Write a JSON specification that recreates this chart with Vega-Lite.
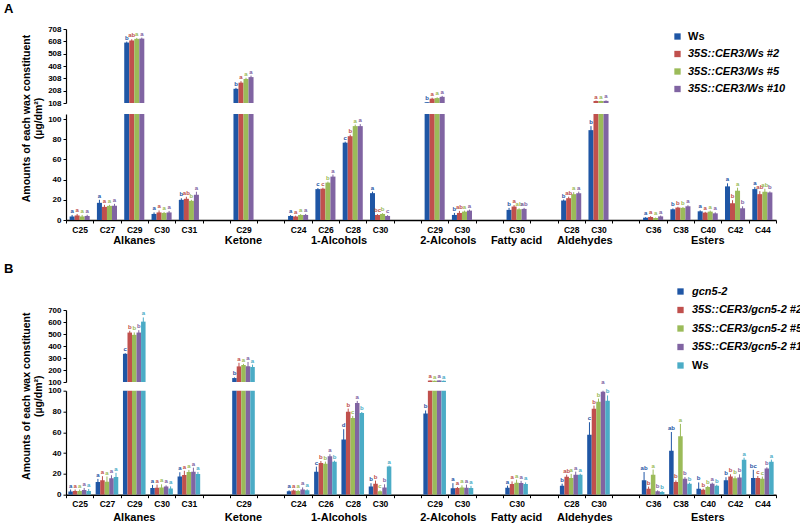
{
"$schema": "https://vega.github.io/schema/vega-lite/v6.json",
"padding": {"left": 4, "top": 3, "right": 0, "bottom": 0},
"config": {"font": "Liberation Sans", "view": {"stroke": null},
  "axis": {"labelFont": "Liberation Sans", "labelFontWeight": "bold", "labelColor": "black", "domainColor": "black", "tickColor": "black", "grid": false, "titleFont": "Liberation Sans", "titleColor": "black", "titleFontWeight": "bold", "labelOverlap": false},
  "title": {"font": "Liberation Sans"}},
"datasets": {
"classes": [{"c":"Alkanes","p":2.5},{"c":"Ketone","p":6.5},{"c":"1-Alcohols","p":10},{"c":"2-Alcohols","p":14},{"c":"Fatty acid","p":16.5},{"c":"Aldehydes","p":19},{"c":"Esters","p":23.5}],
"A": [
{"k":"0|C25","g":"Ws","v":3.5,"lo":2,"hi":5,"l":"a"},
{"k":"0|C25","g":"35S::CER3/Ws #2","v":4.5,"lo":3,"hi":6,"l":"a"},
{"k":"0|C25","g":"35S::CER3/Ws #5","v":3.5,"lo":2,"hi":5,"l":"a"},
{"k":"0|C25","g":"35S::CER3/Ws #10","v":4,"lo":2.8,"hi":5.2,"l":"a"},
{"k":"1|C27","g":"Ws","v":17,"lo":14,"hi":20,"l":"a"},
{"k":"1|C27","g":"35S::CER3/Ws #2","v":13,"lo":11,"hi":15,"l":"a"},
{"k":"1|C27","g":"35S::CER3/Ws #5","v":14,"lo":13,"hi":15,"l":"a"},
{"k":"1|C27","g":"35S::CER3/Ws #10","v":14,"lo":12,"hi":16,"l":"a"},
{"k":"2|C29","g":"Ws","v":590,"lo":582,"hi":598,"l":"b"},
{"k":"2|C29","g":"35S::CER3/Ws #2","v":607,"lo":597,"hi":617,"l":"ab"},
{"k":"2|C29","g":"35S::CER3/Ws #5","v":620,"lo":612,"hi":628,"l":"a"},
{"k":"2|C29","g":"35S::CER3/Ws #10","v":622,"lo":614,"hi":630,"l":"a"},
{"k":"3|C30","g":"Ws","v":6,"lo":4.5,"hi":7.5,"l":"a"},
{"k":"3|C30","g":"35S::CER3/Ws #2","v":7.5,"lo":5.5,"hi":9.5,"l":"a"},
{"k":"3|C30","g":"35S::CER3/Ws #5","v":7,"lo":6,"hi":8,"l":"a"},
{"k":"3|C30","g":"35S::CER3/Ws #10","v":7.5,"lo":6,"hi":9,"l":"a"},
{"k":"4|C31","g":"Ws","v":20,"lo":18.5,"hi":21.5,"l":"b"},
{"k":"4|C31","g":"35S::CER3/Ws #2","v":21,"lo":19,"hi":23,"l":"ab"},
{"k":"4|C31","g":"35S::CER3/Ws #5","v":19,"lo":18,"hi":20,"l":"b"},
{"k":"4|C31","g":"35S::CER3/Ws #10","v":25,"lo":22,"hi":28,"l":"a"},
{"k":"6|C29","g":"Ws","v":215,"lo":207,"hi":223,"l":"b"},
{"k":"6|C29","g":"35S::CER3/Ws #2","v":265,"lo":253,"hi":277,"l":"a"},
{"k":"6|C29","g":"35S::CER3/Ws #5","v":295,"lo":285,"hi":305,"l":"a"},
{"k":"6|C29","g":"35S::CER3/Ws #10","v":310,"lo":298,"hi":322,"l":"a"},
{"k":"8|C24","g":"Ws","v":4,"lo":3.2,"hi":4.8,"l":"a"},
{"k":"8|C24","g":"35S::CER3/Ws #2","v":3.5,"lo":2.7,"hi":4.3,"l":"a"},
{"k":"8|C24","g":"35S::CER3/Ws #5","v":5,"lo":4.2,"hi":5.8,"l":"a"},
{"k":"8|C24","g":"35S::CER3/Ws #10","v":5,"lo":4,"hi":6,"l":"a"},
{"k":"9|C26","g":"Ws","v":30.6,"lo":29.6,"hi":31.6,"l":"c"},
{"k":"9|C26","g":"35S::CER3/Ws #2","v":31,"lo":30,"hi":32,"l":"c"},
{"k":"9|C26","g":"35S::CER3/Ws #5","v":37,"lo":36,"hi":38,"l":"b"},
{"k":"9|C26","g":"35S::CER3/Ws #10","v":43,"lo":41,"hi":45,"l":"a"},
{"k":"10|C28","g":"Ws","v":76.6,"lo":75.6,"hi":77.6,"l":"c"},
{"k":"10|C28","g":"35S::CER3/Ws #2","v":83,"lo":81.5,"hi":84.5,"l":"b"},
{"k":"10|C28","g":"35S::CER3/Ws #5","v":93,"lo":91.5,"hi":94.5,"l":"a"},
{"k":"10|C28","g":"35S::CER3/Ws #10","v":93,"lo":91,"hi":95,"l":"a"},
{"k":"11|C30","g":"Ws","v":26.6,"lo":25.1,"hi":28.1,"l":"a"},
{"k":"11|C30","g":"35S::CER3/Ws #2","v":5,"lo":4.2,"hi":5.8,"l":"bc"},
{"k":"11|C30","g":"35S::CER3/Ws #5","v":6,"lo":5.2,"hi":6.8,"l":"b"},
{"k":"11|C30","g":"35S::CER3/Ws #10","v":4,"lo":3.2,"hi":4.8,"l":"c"},
{"k":"13|C29","g":"Ws","v":106,"lo":104,"hi":108,"l":"b"},
{"k":"13|C29","g":"35S::CER3/Ws #2","v":135,"lo":127,"hi":143,"l":"a"},
{"k":"13|C29","g":"35S::CER3/Ws #5","v":140,"lo":134,"hi":146,"l":"a"},
{"k":"13|C29","g":"35S::CER3/Ws #10","v":150,"lo":142,"hi":158,"l":"a"},
{"k":"14|C30","g":"Ws","v":5,"lo":3,"hi":7,"l":"b"},
{"k":"14|C30","g":"35S::CER3/Ws #2","v":7,"lo":5,"hi":9,"l":"ab"},
{"k":"14|C30","g":"35S::CER3/Ws #5","v":8.3,"lo":7.3,"hi":9.3,"l":"a"},
{"k":"14|C30","g":"35S::CER3/Ws #10","v":9.3,"lo":8.3,"hi":10.3,"l":"a"},
{"k":"16|C30","g":"Ws","v":10,"lo":8,"hi":12,"l":"b"},
{"k":"16|C30","g":"35S::CER3/Ws #2","v":13.3,"lo":11.8,"hi":14.8,"l":"a"},
{"k":"16|C30","g":"35S::CER3/Ws #5","v":10.6,"lo":9.6,"hi":11.6,"l":"ab"},
{"k":"16|C30","g":"35S::CER3/Ws #10","v":11,"lo":10,"hi":12,"l":"ab"},
{"k":"18|C28","g":"Ws","v":19.3,"lo":18.3,"hi":20.3,"l":"b"},
{"k":"18|C28","g":"35S::CER3/Ws #2","v":21.6,"lo":20.1,"hi":23.1,"l":"ab"},
{"k":"18|C28","g":"35S::CER3/Ws #5","v":25.6,"lo":23.6,"hi":27.6,"l":"a"},
{"k":"18|C28","g":"35S::CER3/Ws #10","v":26.6,"lo":25.1,"hi":28.1,"l":"a"},
{"k":"19|C30","g":"Ws","v":89,"lo":85,"hi":93,"l":"b"},
{"k":"19|C30","g":"35S::CER3/Ws #2","v":116,"lo":112,"hi":120,"l":"a"},
{"k":"19|C30","g":"35S::CER3/Ws #5","v":116,"lo":113,"hi":119,"l":"a"},
{"k":"19|C30","g":"35S::CER3/Ws #10","v":117,"lo":113,"hi":121,"l":"a"},
{"k":"21|C36","g":"Ws","v":2.3,"lo":1.8,"hi":2.8,"l":"a"},
{"k":"21|C36","g":"35S::CER3/Ws #2","v":3,"lo":2.2,"hi":3.8,"l":"a"},
{"k":"21|C36","g":"35S::CER3/Ws #5","v":2,"lo":1.5,"hi":2.5,"l":"a"},
{"k":"21|C36","g":"35S::CER3/Ws #10","v":3.6,"lo":2.8,"hi":4.4,"l":"a"},
{"k":"22|C38","g":"Ws","v":10.6,"lo":9.8,"hi":11.4,"l":"b"},
{"k":"22|C38","g":"35S::CER3/Ws #2","v":12.3,"lo":11.5,"hi":13.1,"l":"b"},
{"k":"22|C38","g":"35S::CER3/Ws #5","v":12,"lo":11.2,"hi":12.8,"l":"b"},
{"k":"22|C38","g":"35S::CER3/Ws #10","v":13.6,"lo":12.6,"hi":14.6,"l":"a"},
{"k":"23|C40","g":"Ws","v":8.6,"lo":7.6,"hi":9.6,"l":"a"},
{"k":"23|C40","g":"35S::CER3/Ws #2","v":7.3,"lo":6.5,"hi":8.1,"l":"a"},
{"k":"23|C40","g":"35S::CER3/Ws #5","v":8.3,"lo":7.3,"hi":9.3,"l":"a"},
{"k":"23|C40","g":"35S::CER3/Ws #10","v":6.6,"lo":5.6,"hi":7.6,"l":"a"},
{"k":"24|C42","g":"Ws","v":33.3,"lo":30.3,"hi":36.3,"l":"a"},
{"k":"24|C42","g":"35S::CER3/Ws #2","v":16.6,"lo":13.6,"hi":19.6,"l":"b"},
{"k":"24|C42","g":"35S::CER3/Ws #5","v":29,"lo":26,"hi":32,"l":"a"},
{"k":"24|C42","g":"35S::CER3/Ws #10","v":11.6,"lo":9.6,"hi":13.6,"l":"b"},
{"k":"25|C44","g":"Ws","v":30.6,"lo":28.6,"hi":32.6,"l":"a"},
{"k":"25|C44","g":"35S::CER3/Ws #2","v":25.6,"lo":22.6,"hi":28.6,"l":"ab"},
{"k":"25|C44","g":"35S::CER3/Ws #5","v":28,"lo":25,"hi":31,"l":"ab"},
{"k":"25|C44","g":"35S::CER3/Ws #10","v":27.3,"lo":26.3,"hi":28.3,"l":"b"}
],
"B": [
{"k":"0|C25","g":"gcn5-2","v":3,"lo":1,"hi":5,"l":"a"},
{"k":"0|C25","g":"35S::CER3/gcn5-2 #2","v":3.5,"lo":2,"hi":5,"l":"a"},
{"k":"0|C25","g":"35S::CER3/gcn5-2 #5","v":3.5,"lo":2,"hi":5,"l":"a"},
{"k":"0|C25","g":"35S::CER3/gcn5-2 #10","v":4.5,"lo":2.5,"hi":6.5,"l":"a"},
{"k":"0|C25","g":"Ws","v":3.5,"lo":1.5,"hi":5.5,"l":"a"},
{"k":"1|C27","g":"gcn5-2","v":12.2,"lo":9.2,"hi":15.2,"l":"a"},
{"k":"1|C27","g":"35S::CER3/gcn5-2 #2","v":13.8,"lo":9.8,"hi":17.8,"l":"a"},
{"k":"1|C27","g":"35S::CER3/gcn5-2 #5","v":12.5,"lo":7.5,"hi":17.5,"l":"a"},
{"k":"1|C27","g":"35S::CER3/gcn5-2 #10","v":15.7,"lo":12.7,"hi":18.7,"l":"a"},
{"k":"1|C27","g":"Ws","v":17,"lo":13,"hi":21,"l":"a"},
{"k":"2|C29","g":"gcn5-2","v":335,"lo":330,"hi":340,"l":"c"},
{"k":"2|C29","g":"35S::CER3/gcn5-2 #2","v":512,"lo":497,"hi":527,"l":"b"},
{"k":"2|C29","g":"35S::CER3/gcn5-2 #5","v":493,"lo":473,"hi":513,"l":"b"},
{"k":"2|C29","g":"35S::CER3/gcn5-2 #10","v":512,"lo":492,"hi":532,"l":"b"},
{"k":"2|C29","g":"Ws","v":603,"lo":568,"hi":638,"l":"a"},
{"k":"3|C30","g":"gcn5-2","v":6.4,"lo":3.4,"hi":9.4,"l":"a"},
{"k":"3|C30","g":"35S::CER3/gcn5-2 #2","v":6.7,"lo":3.7,"hi":9.7,"l":"a"},
{"k":"3|C30","g":"35S::CER3/gcn5-2 #5","v":7,"lo":4,"hi":10,"l":"a"},
{"k":"3|C30","g":"35S::CER3/gcn5-2 #10","v":8,"lo":7,"hi":9,"l":"a"},
{"k":"3|C30","g":"Ws","v":6,"lo":4,"hi":8,"l":"a"},
{"k":"4|C31","g":"gcn5-2","v":17.6,"lo":13.6,"hi":21.6,"l":"a"},
{"k":"4|C31","g":"35S::CER3/gcn5-2 #2","v":19,"lo":15,"hi":23,"l":"a"},
{"k":"4|C31","g":"35S::CER3/gcn5-2 #5","v":21.8,"lo":19.8,"hi":23.8,"l":"a"},
{"k":"4|C31","g":"35S::CER3/gcn5-2 #10","v":22,"lo":18,"hi":26,"l":"a"},
{"k":"4|C31","g":"Ws","v":19.9,"lo":17.9,"hi":21.9,"l":"a"},
{"k":"6|C29","g":"gcn5-2","v":133,"lo":128,"hi":138,"l":"b"},
{"k":"6|C29","g":"35S::CER3/gcn5-2 #2","v":230,"lo":200,"hi":260,"l":"a"},
{"k":"6|C29","g":"35S::CER3/gcn5-2 #5","v":241,"lo":231,"hi":251,"l":"a"},
{"k":"6|C29","g":"35S::CER3/gcn5-2 #10","v":232,"lo":197,"hi":267,"l":"a"},
{"k":"6|C29","g":"Ws","v":225,"lo":205,"hi":245,"l":"a"},
{"k":"8|C24","g":"gcn5-2","v":3.2,"lo":2.2,"hi":4.2,"l":"a"},
{"k":"8|C24","g":"35S::CER3/gcn5-2 #2","v":4,"lo":3,"hi":5,"l":"a"},
{"k":"8|C24","g":"35S::CER3/gcn5-2 #5","v":3.6,"lo":2.6,"hi":4.6,"l":"a"},
{"k":"8|C24","g":"35S::CER3/gcn5-2 #10","v":5,"lo":3,"hi":7,"l":"a"},
{"k":"8|C24","g":"Ws","v":4.2,"lo":3.2,"hi":5.2,"l":"a"},
{"k":"9|C26","g":"gcn5-2","v":22,"lo":17,"hi":27,"l":"c"},
{"k":"9|C26","g":"35S::CER3/gcn5-2 #2","v":30.4,"lo":28.4,"hi":32.4,"l":"b"},
{"k":"9|C26","g":"35S::CER3/gcn5-2 #5","v":29.8,"lo":27.8,"hi":31.8,"l":"b"},
{"k":"9|C26","g":"35S::CER3/gcn5-2 #10","v":36.9,"lo":34.9,"hi":38.9,"l":"a"},
{"k":"9|C26","g":"Ws","v":31.7,"lo":30.7,"hi":32.7,"l":"b"},
{"k":"10|C28","g":"gcn5-2","v":53,"lo":43,"hi":63,"l":"d"},
{"k":"10|C28","g":"35S::CER3/gcn5-2 #2","v":79.8,"lo":76.8,"hi":82.8,"l":"b"},
{"k":"10|C28","g":"35S::CER3/gcn5-2 #5","v":73.7,"lo":71.7,"hi":75.7,"l":"c"},
{"k":"10|C28","g":"35S::CER3/gcn5-2 #10","v":88.2,"lo":86.2,"hi":90.2,"l":"a"},
{"k":"10|C28","g":"Ws","v":78.5,"lo":77.5,"hi":79.5,"l":"b"},
{"k":"11|C30","g":"gcn5-2","v":8,"lo":5,"hi":11,"l":"b"},
{"k":"11|C30","g":"35S::CER3/gcn5-2 #2","v":10.6,"lo":7.6,"hi":13.6,"l":"b"},
{"k":"11|C30","g":"35S::CER3/gcn5-2 #5","v":3.2,"lo":2.2,"hi":4.2,"l":"c"},
{"k":"11|C30","g":"35S::CER3/gcn5-2 #10","v":7,"lo":4,"hi":10,"l":"b"},
{"k":"11|C30","g":"Ws","v":27,"lo":26,"hi":28,"l":"a"},
{"k":"13|C29","g":"gcn5-2","v":78,"lo":75,"hi":81,"l":"b"},
{"k":"13|C29","g":"35S::CER3/gcn5-2 #2","v":112,"lo":110,"hi":114,"l":"a"},
{"k":"13|C29","g":"35S::CER3/gcn5-2 #5","v":110,"lo":108,"hi":112,"l":"a"},
{"k":"13|C29","g":"35S::CER3/gcn5-2 #10","v":113,"lo":111,"hi":115,"l":"a"},
{"k":"13|C29","g":"Ws","v":110,"lo":108,"hi":112,"l":"a"},
{"k":"14|C30","g":"gcn5-2","v":6.1,"lo":1.1,"hi":11.1,"l":"a"},
{"k":"14|C30","g":"35S::CER3/gcn5-2 #2","v":6.4,"lo":5.4,"hi":7.4,"l":"a"},
{"k":"14|C30","g":"35S::CER3/gcn5-2 #5","v":7,"lo":5,"hi":9,"l":"a"},
{"k":"14|C30","g":"35S::CER3/gcn5-2 #10","v":6.7,"lo":3.7,"hi":9.7,"l":"a"},
{"k":"14|C30","g":"Ws","v":6.5,"lo":4.5,"hi":8.5,"l":"a"},
{"k":"16|C30","g":"gcn5-2","v":6.7,"lo":4.7,"hi":8.7,"l":"a"},
{"k":"16|C30","g":"35S::CER3/gcn5-2 #2","v":10.3,"lo":7.8,"hi":12.8,"l":"a"},
{"k":"16|C30","g":"35S::CER3/gcn5-2 #5","v":11.5,"lo":8.5,"hi":14.5,"l":"a"},
{"k":"16|C30","g":"35S::CER3/gcn5-2 #10","v":11.3,"lo":9.3,"hi":13.3,"l":"a"},
{"k":"16|C30","g":"Ws","v":10.3,"lo":8.8,"hi":11.8,"l":"a"},
{"k":"18|C28","g":"gcn5-2","v":8.6,"lo":6.6,"hi":10.6,"l":"b"},
{"k":"18|C28","g":"35S::CER3/gcn5-2 #2","v":17.3,"lo":15.3,"hi":19.3,"l":"ab"},
{"k":"18|C28","g":"35S::CER3/gcn5-2 #5","v":16,"lo":12,"hi":20,"l":"a"},
{"k":"18|C28","g":"35S::CER3/gcn5-2 #10","v":19.2,"lo":16.2,"hi":22.2,"l":"a"},
{"k":"18|C28","g":"Ws","v":19.2,"lo":18.2,"hi":20.2,"l":"a"},
{"k":"19|C30","g":"gcn5-2","v":57.7,"lo":45.7,"hi":69.7,"l":"c"},
{"k":"19|C30","g":"35S::CER3/gcn5-2 #2","v":82.7,"lo":79.7,"hi":85.7,"l":"b"},
{"k":"19|C30","g":"35S::CER3/gcn5-2 #5","v":89.4,"lo":86.4,"hi":92.4,"l":"b"},
{"k":"19|C30","g":"35S::CER3/gcn5-2 #10","v":99,"lo":93,"hi":105,"l":"a"},
{"k":"19|C30","g":"Ws","v":90.4,"lo":85.4,"hi":95.4,"l":"b"},
{"k":"21|C36","g":"gcn5-2","v":13.8,"lo":5.8,"hi":21.8,"l":"ab"},
{"k":"21|C36","g":"35S::CER3/gcn5-2 #2","v":5.8,"lo":3.8,"hi":7.8,"l":"b"},
{"k":"21|C36","g":"35S::CER3/gcn5-2 #5","v":19.2,"lo":14.2,"hi":24.2,"l":"a"},
{"k":"21|C36","g":"35S::CER3/gcn5-2 #10","v":3.2,"lo":2.2,"hi":4.2,"l":"b"},
{"k":"21|C36","g":"Ws","v":2.5,"lo":1.5,"hi":3.5,"l":"b"},
{"k":"22|C38","g":"gcn5-2","v":42.3,"lo":24.3,"hi":60.3,"l":"ab"},
{"k":"22|C38","g":"35S::CER3/gcn5-2 #2","v":12.2,"lo":10.7,"hi":13.7,"l":"b"},
{"k":"22|C38","g":"35S::CER3/gcn5-2 #5","v":56.1,"lo":44.1,"hi":68.1,"l":"a"},
{"k":"22|C38","g":"35S::CER3/gcn5-2 #10","v":15.4,"lo":13.9,"hi":16.9,"l":"b"},
{"k":"22|C38","g":"Ws","v":10.6,"lo":9.6,"hi":11.6,"l":"b"},
{"k":"23|C40","g":"gcn5-2","v":5.8,"lo":0,"hi":11.8,"l":"b"},
{"k":"23|C40","g":"35S::CER3/gcn5-2 #2","v":4.8,"lo":3.8,"hi":5.8,"l":"b"},
{"k":"23|C40","g":"35S::CER3/gcn5-2 #5","v":7.4,"lo":6.4,"hi":8.4,"l":"b"},
{"k":"23|C40","g":"35S::CER3/gcn5-2 #10","v":10.6,"lo":9.6,"hi":11.6,"l":"a"},
{"k":"23|C40","g":"Ws","v":8.6,"lo":7.6,"hi":9.6,"l":"b"},
{"k":"24|C42","g":"gcn5-2","v":13.8,"lo":10.8,"hi":16.8,"l":"b"},
{"k":"24|C42","g":"35S::CER3/gcn5-2 #2","v":17.6,"lo":15.6,"hi":19.6,"l":"b"},
{"k":"24|C42","g":"35S::CER3/gcn5-2 #5","v":15.7,"lo":13.7,"hi":17.7,"l":"b"},
{"k":"24|C42","g":"35S::CER3/gcn5-2 #10","v":16.6,"lo":13.6,"hi":19.6,"l":"b"},
{"k":"24|C42","g":"Ws","v":33.6,"lo":31.6,"hi":35.6,"l":"a"},
{"k":"25|C44","g":"gcn5-2","v":16,"lo":8,"hi":24,"l":"bc"},
{"k":"25|C44","g":"35S::CER3/gcn5-2 #2","v":16,"lo":14,"hi":18,"l":"c"},
{"k":"25|C44","g":"35S::CER3/gcn5-2 #5","v":15.4,"lo":13.4,"hi":17.4,"l":"c"},
{"k":"25|C44","g":"35S::CER3/gcn5-2 #10","v":25.3,"lo":24.3,"hi":26.3,"l":"b"},
{"k":"25|C44","g":"Ws","v":31.7,"lo":29.7,"hi":33.7,"l":"a"}
]
},
"vconcat": [
{
 "vconcat": [
  {
   "width": 710, "height": 74,
   "title": {"text": "A", "anchor": "start", "frame": "group", "dx": -62, "offset": 9, "fontSize": 13, "fontWeight": "bold", "color": "black"},
   "data": {"name": "A"},
   "transform": [{"filter": "datum.v >= 100"}],
   "encoding": {
    "x": {"field": "k", "type": "nominal", "scale": {"domain": ["0|C25","1|C27","2|C29","3|C30","4|C31","5|","6|C29","7|","8|C24","9|C26","10|C28","11|C30","12|","13|C29","14|C30","15|","16|C30","17|","18|C28","19|C30","20|","21|C36","22|C38","23|C40","24|C42","25|C44"], "paddingInner": 0, "paddingOuter": 0}, "axis": null},
    "xOffset": {"field": "g", "type": "nominal", "scale": {"domain": ["Ws","35S::CER3/Ws #2","35S::CER3/Ws #5","35S::CER3/Ws #10"], "paddingInner": 0, "paddingOuter": 0.72}},
    "color": {"field": "g", "type": "nominal", "scale": {"domain": ["Ws","35S::CER3/Ws #2","35S::CER3/Ws #5","35S::CER3/Ws #10"], "range": ["#1f56a5","#c0504d","#9bbb59","#8064a2"]},
      "legend": {"orient": "none", "legendX": 606, "legendY": 2, "title": null, "symbolType": "square", "symbolSize": 40, "symbolStrokeWidth": 0, "labelFontSize": 11, "labelFontWeight": "bold", "labelFont": "Liberation Sans", "labelColor": "black", "labelFontStyle": {"expr": "datum.label == 'Ws' ? 'normal' : 'italic'"}, "rowPadding": 5.5, "labelOffset": 5, "labelLimit": 300}}
   },
   "layer": [
    {"mark": {"type": "bar"}, "encoding": {"y": {"field": "v", "type": "quantitative", "scale": {"domain": [100, 700], "zero": false, "nice": false}, "axis": {"values": [100,200,300,400,500,600,700], "labelExpr": "datum.value / 100 + '08'", "labelOverlap": false, "title": null, "labelFontSize": 8, "tickSize": 3, "domainWidth": 1.2}}, "y2": {"datum": 100}}},
    {"mark": {"type": "rule", "color": "black", "strokeWidth": 1}, "encoding": {"y": {"field": "lo", "type": "quantitative", "axis": {"values": [100,200,300,400,500,600,700], "labelExpr": "datum.value / 100 + '08'", "labelOverlap": false, "title": null, "labelFontSize": 8, "tickSize": 3, "domainWidth": 1.2}}, "y2": {"field": "hi"}}},
    {"mark": {"type": "text", "baseline": "bottom", "dy": -1, "fontSize": 6, "fontWeight": "bold", "color": "#333"}, "encoding": {"y": {"field": "hi", "type": "quantitative", "axis": {"values": [100,200,300,400,500,600,700], "labelExpr": "datum.value / 100 + '08'", "labelOverlap": false, "title": null, "labelFontSize": 8, "tickSize": 3, "domainWidth": 1.2}}, "text": {"field": "l"}}}
   ]
  },
  {
   "width": 710, "height": 106,
   "layer": [
    {
     "data": {"name": "A"},
     "encoding": {
      "x": {"field": "k", "type": "nominal", "scale": {"domain": ["0|C25","1|C27","2|C29","3|C30","4|C31","5|","6|C29","7|","8|C24","9|C26","10|C28","11|C30","12|","13|C29","14|C30","15|","16|C30","17|","18|C28","19|C30","20|","21|C36","22|C38","23|C40","24|C42","25|C44"], "paddingInner": 0, "paddingOuter": 0},
        "axis": {"labelExpr": "split(datum.label, '|')[1]", "tickBand": "extent", "title": null, "labelAngle": 0, "labelFontSize": 8.5, "tickSize": 3, "labelPadding": 2, "domainWidth": 1.5}},
      "xOffset": {"field": "g", "type": "nominal", "scale": {"domain": ["Ws","35S::CER3/Ws #2","35S::CER3/Ws #5","35S::CER3/Ws #10"], "paddingInner": 0, "paddingOuter": 0.72}},
      "color": {"field": "g", "type": "nominal", "scale": {"domain": ["Ws","35S::CER3/Ws #2","35S::CER3/Ws #5","35S::CER3/Ws #10"], "range": ["#1f56a5","#c0504d","#9bbb59","#8064a2"]}, "legend": null}
     },
     "layer": [
      {"mark": {"type": "bar", "clip": true}, "encoding": {"y": {"field": "v", "type": "quantitative", "scale": {"domain": [0, 105], "nice": false}, "axis": {"values": [0,20,40,60,80,100], "labelOverlap": false, "title": ["Amounts of each wax constituent", "(µg/dm²)"], "titleFontSize": 10.5, "titleY": 4, "titlePadding": 4, "labelFontSize": 8, "tickSize": 3, "domainWidth": 1.2}}}},
      {"transform": [{"filter": "datum.v < 100"}], "mark": {"type": "rule", "color": "black", "strokeWidth": 1, "clip": true}, "encoding": {"y": {"field": "lo", "type": "quantitative", "axis": {"values": [0,20,40,60,80,100], "labelOverlap": false, "title": ["Amounts of each wax constituent", "(µg/dm²)"], "titleFontSize": 10.5, "titleY": 4, "titlePadding": 4, "labelFontSize": 8, "tickSize": 3, "domainWidth": 1.2}}, "y2": {"field": "hi"}}},
      {"transform": [{"filter": "datum.v < 100"}], "mark": {"type": "text", "baseline": "bottom", "dy": -1, "fontSize": 6, "fontWeight": "bold", "color": "#333"}, "encoding": {"y": {"field": "hi", "type": "quantitative", "axis": {"values": [0,20,40,60,80,100], "labelOverlap": false, "title": ["Amounts of each wax constituent", "(µg/dm²)"], "titleFontSize": 10.5, "titleY": 4, "titlePadding": 4, "labelFontSize": 8, "tickSize": 3, "domainWidth": 1.2}}, "text": {"field": "l"}}}
     ]
    },
    {
     "data": {"name": "classes"},
     "mark": {"type": "text", "baseline": "middle", "dy": 21, "fontSize": 11, "fontWeight": "bold", "color": "black"},
     "encoding": {
      "x": {"field": "p", "type": "quantitative", "scale": {"domain": [0, 26], "nice": false, "zero": false}, "axis": null},
      "y": {"datum": 0, "axis": {"values": [0,20,40,60,80,100], "labelOverlap": false, "title": ["Amounts of each wax constituent", "(µg/dm²)"], "titleFontSize": 10.5, "titleY": 4, "titlePadding": 4, "labelFontSize": 8, "tickSize": 3, "domainWidth": 1.2}},
      "text": {"field": "c"}
     }
    }
   ],
   "resolve": {"scale": {"x": "independent"}}
  }
 ],
 "spacing": 11,
 "bounds": "flush",
 "resolve": {"scale": {"x": "independent", "y": "independent", "xOffset": "independent"}, "legend": {"color": "independent"}}
},
{
 "vconcat": [
  {
   "width": 710, "height": 72,
   "title": {"text": "B", "anchor": "start", "frame": "group", "dx": -62, "offset": 10, "fontSize": 13, "fontWeight": "bold", "color": "black"},
   "data": {"name": "B"},
   "transform": [{"filter": "datum.v >= 100"}],
   "encoding": {
    "x": {"field": "k", "type": "nominal", "scale": {"domain": ["0|C25","1|C27","2|C29","3|C30","4|C31","5|","6|C29","7|","8|C24","9|C26","10|C28","11|C30","12|","13|C29","14|C30","15|","16|C30","17|","18|C28","19|C30","20|","21|C36","22|C38","23|C40","24|C42","25|C44"], "paddingInner": 0, "paddingOuter": 0}, "axis": null},
    "xOffset": {"field": "g", "type": "nominal", "scale": {"domain": ["gcn5-2","35S::CER3/gcn5-2 #2","35S::CER3/gcn5-2 #5","35S::CER3/gcn5-2 #10","Ws"], "paddingInner": 0, "paddingOuter": 0.52}},
    "color": {"field": "g", "type": "nominal", "scale": {"domain": ["gcn5-2","35S::CER3/gcn5-2 #2","35S::CER3/gcn5-2 #5","35S::CER3/gcn5-2 #10","Ws"], "range": ["#1f56a5","#c0504d","#9bbb59","#8064a2","#4bacc6"]},
      "legend": {"orient": "none", "legendX": 609, "legendY": -24, "title": null, "symbolType": "square", "symbolSize": 40, "symbolStrokeWidth": 0, "labelFontSize": 11, "labelFontWeight": "bold", "labelFont": "Liberation Sans", "labelColor": "black", "labelFontStyle": {"expr": "datum.label == 'Ws' ? 'normal' : 'italic'"}, "rowPadding": 6.5, "labelOffset": 6, "labelLimit": 300}}
   },
   "layer": [
    {"mark": {"type": "bar"}, "encoding": {"y": {"field": "v", "type": "quantitative", "scale": {"domain": [100, 700], "zero": false, "nice": false}, "axis": {"values": [100,200,300,400,500,600,700], "labelOverlap": false, "title": null, "labelFontSize": 8, "tickSize": 3, "domainWidth": 1.2}}, "y2": {"datum": 100}}},
    {"mark": {"type": "rule", "color": "black", "strokeWidth": 1}, "encoding": {"y": {"field": "lo", "type": "quantitative", "axis": {"values": [100,200,300,400,500,600,700], "labelOverlap": false, "title": null, "labelFontSize": 8, "tickSize": 3, "domainWidth": 1.2}}, "y2": {"field": "hi"}}},
    {"mark": {"type": "text", "baseline": "bottom", "dy": -1, "fontSize": 6, "fontWeight": "bold", "color": "#333"}, "encoding": {"y": {"field": "hi", "type": "quantitative", "axis": {"values": [100,200,300,400,500,600,700], "labelOverlap": false, "title": null, "labelFontSize": 8, "tickSize": 3, "domainWidth": 1.2}}, "text": {"field": "l"}}}
   ]
  },
  {
   "width": 710, "height": 104,
   "layer": [
    {
     "data": {"name": "B"},
     "encoding": {
      "x": {"field": "k", "type": "nominal", "scale": {"domain": ["0|C25","1|C27","2|C29","3|C30","4|C31","5|","6|C29","7|","8|C24","9|C26","10|C28","11|C30","12|","13|C29","14|C30","15|","16|C30","17|","18|C28","19|C30","20|","21|C36","22|C38","23|C40","24|C42","25|C44"], "paddingInner": 0, "paddingOuter": 0},
        "axis": {"labelExpr": "split(datum.label, '|')[1]", "tickBand": "extent", "title": null, "labelAngle": 0, "labelFontSize": 8.5, "tickSize": 3, "labelPadding": 2, "domainWidth": 1.5}},
      "xOffset": {"field": "g", "type": "nominal", "scale": {"domain": ["gcn5-2","35S::CER3/gcn5-2 #2","35S::CER3/gcn5-2 #5","35S::CER3/gcn5-2 #10","Ws"], "paddingInner": 0, "paddingOuter": 0.52}},
      "color": {"field": "g", "type": "nominal", "scale": {"domain": ["gcn5-2","35S::CER3/gcn5-2 #2","35S::CER3/gcn5-2 #5","35S::CER3/gcn5-2 #10","Ws"], "range": ["#1f56a5","#c0504d","#9bbb59","#8064a2","#4bacc6"]}, "legend": null}
     },
     "layer": [
      {"mark": {"type": "bar", "clip": true}, "encoding": {"y": {"field": "v", "type": "quantitative", "scale": {"domain": [0, 100], "nice": false}, "axis": {"values": [0,20,40,60,80,100], "labelOverlap": false, "title": ["Amounts of each wax constituent", "(µg/dm²)"], "titleFontSize": 10.5, "titleY": 5, "titlePadding": 4, "labelFontSize": 8, "tickSize": 3, "domainWidth": 1.2}}}},
      {"transform": [{"filter": "datum.v < 100"}], "mark": {"type": "rule", "color": "black", "strokeWidth": 1, "clip": true}, "encoding": {"y": {"field": "lo", "type": "quantitative", "axis": {"values": [0,20,40,60,80,100], "labelOverlap": false, "title": ["Amounts of each wax constituent", "(µg/dm²)"], "titleFontSize": 10.5, "titleY": 5, "titlePadding": 4, "labelFontSize": 8, "tickSize": 3, "domainWidth": 1.2}}, "y2": {"field": "hi"}}},
      {"transform": [{"filter": "datum.v < 100"}], "mark": {"type": "text", "baseline": "bottom", "dy": -1, "fontSize": 6, "fontWeight": "bold", "color": "#333"}, "encoding": {"y": {"field": "hi", "type": "quantitative", "axis": {"values": [0,20,40,60,80,100], "labelOverlap": false, "title": ["Amounts of each wax constituent", "(µg/dm²)"], "titleFontSize": 10.5, "titleY": 5, "titlePadding": 4, "labelFontSize": 8, "tickSize": 3, "domainWidth": 1.2}}, "text": {"field": "l"}}}
     ]
    },
    {
     "data": {"name": "classes"},
     "mark": {"type": "text", "baseline": "middle", "dy": 23, "fontSize": 11, "fontWeight": "bold", "color": "black"},
     "encoding": {
      "x": {"field": "p", "type": "quantitative", "scale": {"domain": [0, 26], "nice": false, "zero": false}, "axis": null},
      "y": {"datum": 0, "axis": {"values": [0,20,40,60,80,100], "labelOverlap": false, "title": ["Amounts of each wax constituent", "(µg/dm²)"], "titleFontSize": 10.5, "titleY": 5, "titlePadding": 4, "labelFontSize": 8, "tickSize": 3, "domainWidth": 1.2}},
      "text": {"field": "c"}
     }
    }
   ],
   "resolve": {"scale": {"x": "independent"}}
  }
 ],
 "spacing": 8.7,
 "bounds": "flush",
 "resolve": {"scale": {"x": "independent", "y": "independent", "xOffset": "independent"}, "legend": {"color": "independent"}}
}
],
"spacing": 17,
"resolve": {"scale": {"x": "independent", "y": "independent", "xOffset": "independent", "color": "independent"}, "legend": {"color": "independent"}}
}
